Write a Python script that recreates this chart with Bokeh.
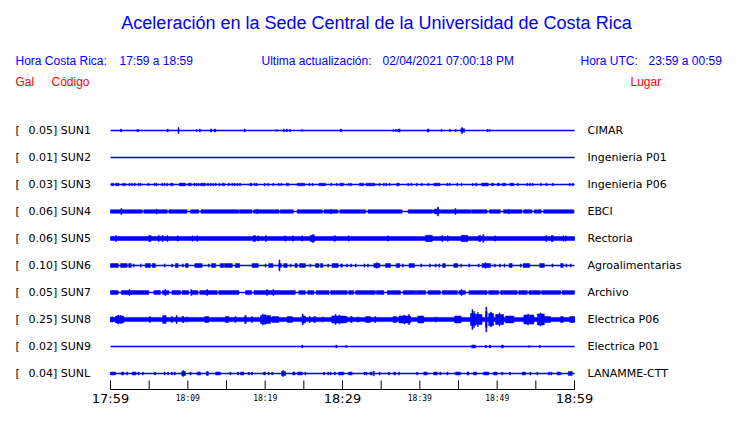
from bokeh.plotting import figure
from bokeh.models import Range1d, ColumnDataSource
from bokeh.core.properties import value
from bokeh.embed import file_html
from bokeh.resources import INLINE

# ---------------- data ----------------
codes = ["SUN1", "SUN2", "SUN3", "SUN4", "SUN5", "SUN6", "SUN7", "SUN8", "SUN9", "SUNL"]
gal_scale = ["0.05", "0.01", "0.03", "0.06", "0.06", "0.10", "0.05", "0.25", "0.02", "0.04"]
places = ["CIMAR", "Ingenieria P01", "Ingenieria P06", "EBCI", "Rectoria",
          "Agroalimentarias", "Archivo", "Electrica P06", "Electrica P01", "LANAMME-CTT"]

# continuous background envelope (half amplitude, trace units; 27 units = trace spacing)
base_amp = [0.5, 0.5, 0.5, 0.5, 2.0, 0.5, 0.5, 2.1, 0.5, 0.5]

# bursts: (start minute, end minute, half amplitude) ; minutes after 17:59
sun1 = [(1.35, 1.35, 1.5), (3.4, 3.65, 1.0), (7.4, 7.4, 1.5), (8.8, 8.8, 3.0), (11.15, 11.15, 1.0),
        (11.55, 11.55, 1.5), (12.9, 13.1, 1.5), (13.4, 13.6, 1.5), (17.35, 17.35, 1.5), (21.5, 21.5, 0.8),
        (22.4, 22.4, 1.5), (22.8, 22.8, 1.5), (23.2, 23.2, 1.0), (24.8, 24.8, 0.8), (29.8, 29.8, 1.5),
        (36.6, 36.6, 1.0), (36.9, 36.9, 1.0), (37.15, 37.45, 1.5), (40.95, 41.2, 1.5), (42.8, 42.8, 1.0),
        (43.9, 43.9, 1.0), (44.65, 44.65, 1.0), (45.3, 45.8, 1.8), (45.45, 45.45, 3.0), (48.75, 48.75, 1.0),
        (49.0, 49.0, 1.0)]
sun2 = []
sun3 = [(0.1, 0.4, 1.3), (0.65, 1.1, 1.3), (1.6, 1.6, 1.3), (1.85, 1.85, 1.3), (2.45, 2.45, 1.3),
        (2.8, 2.8, 1.3), (3.15, 3.15, 1.3), (3.65, 3.65, 1.3), (3.9, 3.9, 1.3), (4.9, 4.9, 1.3),
        (5.7, 5.7, 1.3), (5.95, 5.95, 1.3), (6.7, 6.7, 1.3), (7.0, 7.0, 1.3), (7.35, 7.35, 1.3),
        (7.75, 8.1, 1.3), (8.9, 9.7, 1.4), (10.05, 10.45, 1.3), (10.85, 10.85, 1.3), (11.1, 11.1, 1.3),
        (11.4, 11.4, 1.3), (11.65, 12.3, 1.3), (12.6, 12.6, 1.3), (12.95, 12.95, 1.3), (13.25, 13.25, 1.3),
        (13.6, 13.6, 1.3), (14.1, 14.1, 1.3), (14.45, 14.75, 1.3), (15.3, 15.3, 1.3), (15.75, 15.75, 1.3),
        (16.05, 16.05, 1.3), (16.4, 16.4, 1.3), (16.75, 16.75, 1.3), (18.0, 18.3, 1.3), (18.65, 18.65, 1.3),
        (18.9, 18.9, 1.3), (19.95, 19.95, 1.3), (20.4, 20.4, 1.3), (21.05, 21.05, 1.3), (21.75, 21.75, 1.3),
        (22.1, 22.1, 1.3), (22.75, 23.05, 1.3), (24.15, 25.1, 1.3), (25.75, 25.75, 1.3), (26.15, 26.15, 1.3),
        (26.95, 27.8, 1.3), (28.55, 28.55, 1.3), (29.25, 29.25, 1.3), (29.65, 30.15, 1.3), (30.8, 30.8, 1.3),
        (31.1, 31.1, 1.3), (32.2, 32.7, 1.3), (33.05, 34.2, 1.3), (34.8, 34.8, 1.3), (35.35, 35.35, 1.3),
        (35.65, 35.65, 1.3), (36.1, 36.1, 1.3), (37.0, 37.35, 1.3), (38.5, 38.5, 1.3), (38.9, 38.9, 1.3),
        (39.6, 39.6, 1.3), (40.25, 40.25, 1.3), (41.1, 41.1, 1.3), (41.8, 42.6, 1.3), (43.55, 43.55, 1.3),
        (43.85, 43.85, 1.3), (44.85, 44.85, 1.3), (45.4, 45.4, 1.3), (46.85, 46.85, 1.3), (47.2, 47.4, 1.3),
        (48.0, 48.85, 1.4), (49.25, 49.55, 1.3), (50.0, 50.3, 1.3), (50.65, 51.1, 1.3), (51.65, 52.15, 1.3),
        (52.7, 52.7, 1.3), (53.9, 53.9, 1.3), (54.25, 54.25, 1.3), (54.6, 54.6, 1.3), (55.65, 55.65, 1.3),
        (56.4, 56.4, 1.3), (57.2, 57.2, 1.3), (59.4, 59.4, 1.3), (59.8, 59.8, 1.3)]
sun4 = [(0.0, 4.1, 1.8), (4.3, 7.35, 1.8), (7.55, 9.9, 1.8), (10.35, 11.4, 1.8), (11.7, 16.6, 1.8),
        (16.7, 18.3, 1.8), (18.5, 21.8, 1.8), (21.95, 23.65, 1.8), (24.15, 27.4, 1.8), (27.6, 29.4, 1.8),
        (29.65, 33.0, 1.8), (33.3, 37.7, 1.8), (38.5, 41.6, 1.8), (41.6, 42.7, 1.4), (42.7, 44.6, 1.8),
        (44.7, 46.6, 1.8), (46.7, 48.7, 1.8), (49.0, 50.4, 1.8), (50.8, 53.2, 1.8), (53.4, 54.5, 1.8),
        (54.8, 55.7, 1.8), (56.0, 59.9, 1.8), (1.4, 1.4, 3.0), (5.95, 5.95, 2.5), (19.0, 19.0, 2.3),
        (28.5, 28.5, 2.3), (41.9, 42.5, 2.5), (42.35, 42.35, 4.5), (44.6, 44.6, 3.0), (51.5, 51.5, 2.3)]
sun5 = [(0.7, 0.7, 3.0), (4.95, 5.25, 3.0), (6.25, 6.25, 3.0), (6.75, 6.75, 3.0), (7.35, 7.35, 3.0),
        (8.7, 8.7, 2.7), (10.6, 10.6, 2.7), (11.2, 11.2, 2.7), (18.45, 18.75, 3.0), (19.1, 19.1, 2.7),
        (20.1, 20.1, 3.0), (22.6, 22.6, 2.7), (23.6, 23.6, 2.7), (24.8, 24.8, 2.7), (25.85, 26.4, 3.2),
        (26.2, 26.2, 4.0), (28.9, 29.1, 2.7), (30.8, 30.8, 2.7), (35.9, 35.9, 2.7), (40.75, 41.6, 3.2),
        (42.9, 42.9, 3.0), (43.6, 43.6, 2.7), (45.35, 46.2, 3.2), (47.6, 47.9, 3.0), (48.2, 48.2, 4.0),
        (49.7, 49.7, 2.7), (56.35, 56.35, 3.0), (57.05, 57.05, 3.0), (57.2, 57.2, 3.0), (58.55, 58.55, 2.7),
        (58.85, 58.85, 2.7)]
sun6 = [(0.0, 1.0, 2.0), (1.3, 2.15, 2.0), (2.35, 2.7, 2.0), (3.0, 3.0, 1.6), (3.9, 3.9, 1.6),
        (4.5, 5.15, 2.0), (5.4, 5.8, 2.0), (7.0, 7.0, 1.6), (7.95, 7.95, 1.6), (8.4, 8.75, 2.0),
        (9.35, 9.35, 1.6), (9.7, 10.05, 2.0), (10.9, 11.85, 2.0), (12.7, 12.7, 1.6), (13.05, 13.6, 2.0),
        (14.2, 14.65, 2.0), (14.75, 15.75, 2.0), (16.15, 16.7, 2.0), (18.3, 19.1, 2.0), (20.05, 20.05, 1.6),
        (20.45, 21.0, 2.0), (21.75, 22.1, 2.0), (21.85, 21.85, 5.5), (22.4, 22.85, 2.0), (23.3, 23.3, 1.6),
        (23.85, 24.15, 2.0), (24.45, 25.2, 2.0), (25.85, 25.85, 1.6), (26.5, 26.95, 2.0), (27.15, 27.45, 2.0),
        (28.15, 28.15, 1.6), (28.65, 29.45, 2.0), (29.75, 30.0, 1.6), (30.6, 30.6, 1.6), (31.1, 31.1, 1.6),
        (31.7, 31.7, 1.6), (32.85, 32.85, 1.6), (33.3, 33.3, 1.6), (34.05, 34.85, 2.0), (34.45, 34.45, 2.8),
        (35.55, 36.2, 2.0), (36.95, 37.4, 2.0), (37.8, 37.8, 1.6), (38.6, 39.3, 2.0), (40.2, 40.2, 1.6),
        (41.3, 41.3, 1.6), (42.05, 42.05, 1.6), (42.5, 42.5, 1.6), (42.95, 43.3, 2.0), (44.4, 44.9, 2.0),
        (45.35, 45.35, 1.6), (46.4, 46.4, 1.6), (47.6, 47.6, 1.6), (48.05, 49.15, 2.0), (48.5, 48.5, 2.8),
        (49.7, 49.7, 1.6), (50.35, 50.35, 1.6), (50.95, 50.95, 1.6), (51.55, 51.95, 2.0), (53.05, 53.05, 1.6),
        (53.35, 54.2, 2.0), (55.5, 56.1, 2.0), (57.15, 57.15, 1.6), (58.2, 58.55, 2.0), (58.95, 58.95, 1.6),
        (59.5, 59.5, 1.6)]
sun7 = [(0.0, 1.0, 1.9), (1.4, 4.95, 1.9), (2.45, 2.45, 3.0), (5.6, 6.45, 1.9), (6.7, 7.55, 1.9),
        (7.1, 7.1, 3.0), (7.95, 9.05, 1.9), (9.25, 10.1, 1.9), (10.4, 11.3, 1.9), (10.45, 10.45, 3.0),
        (11.55, 13.8, 1.9), (12.5, 12.5, 3.0), (14.0, 16.6, 1.9), (17.45, 18.25, 1.9), (18.55, 23.9, 1.9),
        (20.25, 20.25, 3.0), (21.05, 21.05, 3.0), (24.35, 25.2, 1.9), (25.5, 26.3, 1.9), (26.6, 28.25, 1.9),
        (28.45, 30.6, 1.9), (30.8, 31.45, 1.9), (31.7, 34.25, 1.9), (34.4, 35.35, 1.9), (35.8, 37.5, 1.9),
        (37.85, 39.45, 1.9), (39.55, 40.75, 1.9), (41.05, 42.65, 1.9), (42.9, 44.85, 1.9), (45.05, 45.9, 1.9),
        (45.4, 45.4, 3.0), (46.35, 48.7, 1.9), (48.9, 50.2, 1.9), (50.45, 52.6, 1.9), (52.8, 53.9, 1.9),
        (54.1, 55.6, 1.9), (55.75, 58.2, 1.9), (58.4, 60.0, 1.9)]
sun8 = [(0.0, 0.4, 2.5), (0.65, 1.7, 3.5), (1.0, 1.0, 4.5), (1.3, 1.3, 4.0), (5.1, 5.1, 3.0),
        (6.75, 7.2, 4.0), (7.95, 7.95, 3.0), (8.55, 8.55, 4.0), (9.25, 9.5, 3.0), (9.9, 9.9, 2.5),
        (12.2, 12.7, 3.0), (14.85, 15.3, 3.0), (16.15, 16.15, 3.0), (17.35, 17.55, 4.0), (18.3, 18.3, 3.0),
        (19.4, 20.7, 4.0), (19.7, 19.7, 5.5), (20.0, 20.0, 5.0), (20.9, 21.75, 3.0), (22.85, 23.5, 3.0),
        (24.8, 25.2, 3.5), (24.85, 24.85, 5.5), (25.75, 25.75, 3.0), (26.3, 26.5, 3.0), (27.45, 27.45, 2.5),
        (28.6, 30.4, 3.5), (29.1, 29.1, 5.0), (29.6, 29.6, 4.5), (30.4, 30.6, 3.0), (31.05, 31.25, 3.0),
        (31.9, 32.1, 2.5), (33.0, 33.6, 3.0), (34.25, 34.25, 3.0), (36.55, 37.0, 3.0), (37.3, 38.8, 3.5),
        (38.0, 38.0, 4.5), (38.6, 38.6, 5.0), (39.75, 40.5, 3.5), (42.05, 42.05, 2.5), (44.5, 45.35, 3.5),
        (46.55, 47.2, 6.0), (46.8, 46.8, 10.0), (47.0, 47.0, 8.0), (47.2, 48.05, 5.0), (47.5, 47.5, 7.0),
        (48.5, 48.7, 8.0), (48.6, 48.6, 12.5), (48.9, 49.55, 6.0), (49.2, 49.2, 7.5), (49.8, 50.85, 5.0),
        (50.3, 50.3, 6.5), (51.1, 52.15, 3.5), (53.45, 54.75, 4.5), (54.0, 54.0, 5.5), (55.2, 56.1, 5.5),
        (55.6, 55.6, 6.5), (56.1, 56.9, 3.0), (58.2, 58.55, 3.0), (59.4, 60.0, 3.0)]
sun9 = [(24.8, 24.8, 1.5), (29.2, 29.2, 1.5), (30.5, 30.5, 1.0), (46.7, 47.2, 1.5), (48.5, 48.6, 1.2),
        (49.0, 49.15, 1.5), (50.55, 50.8, 1.5), (54.1, 54.1, 0.8), (55.5, 55.5, 1.2)]
sunl = [(0.0, 0.65, 1.5), (1.4, 1.7, 1.5), (2.15, 2.15, 1.5), (2.8, 3.3, 1.5), (3.65, 3.65, 1.5),
        (4.2, 4.2, 1.5), (5.75, 5.75, 1.5), (7.0, 7.0, 1.5), (7.45, 7.45, 1.5), (7.95, 7.95, 1.5),
        (8.3, 8.3, 1.5), (9.2, 9.7, 2.0), (9.4, 9.4, 3.0), (10.35, 10.35, 1.5), (11.2, 11.65, 1.5),
        (12.4, 12.65, 2.0), (13.6, 14.2, 1.5), (15.5, 15.5, 1.5), (16.5, 16.5, 1.5), (16.8, 17.25, 1.5),
        (17.9, 17.9, 1.5), (18.3, 18.3, 1.5), (19.8, 20.05, 1.5), (20.45, 20.45, 1.5), (20.9, 20.9, 1.5),
        (22.1, 22.65, 2.0), (22.3, 22.3, 3.0), (23.55, 23.85, 1.5), (24.2, 24.8, 1.5), (25.2, 25.2, 1.5),
        (27.6, 27.6, 1.5), (28.15, 28.15, 1.5), (28.45, 28.45, 1.5), (29.0, 29.0, 1.5), (29.5, 30.15, 1.5),
        (30.8, 31.25, 1.5), (32.85, 32.85, 1.5), (33.1, 33.1, 1.5), (33.55, 33.85, 1.5), (34.05, 34.05, 2.5),
        (34.8, 34.8, 1.5), (36.0, 36.0, 1.5), (36.65, 36.85, 1.5), (37.3, 37.3, 1.5), (39.65, 39.65, 1.5),
        (40.5, 40.95, 1.5), (41.8, 42.25, 1.5), (42.65, 42.65, 1.5), (43.55, 43.55, 1.5), (44.6, 45.25, 1.5),
        (46.1, 46.35, 1.5), (46.95, 47.35, 1.5), (48.25, 48.9, 1.5), (49.55, 50.0, 1.5), (50.65, 50.65, 1.5),
        (51.65, 51.65, 1.5), (53.25, 53.65, 1.5), (54.3, 54.3, 1.5), (55.2, 55.2, 1.5), (56.7, 56.7, 1.5),
        (57.0, 57.0, 1.5), (57.75, 58.2, 1.5), (59.2, 59.7, 2.0)]
bursts = [sun1, sun2, sun3, sun4, sun5, sun6, sun7, sun8, sun9, sunl]

# time axis (minutes after 17:59)
tick_minutes = [0, 5, 10, 15, 20, 25, 30, 35, 40, 45, 50, 55, 60]
label_minutes = [0, 10, 20, 30, 40, 50, 60]
label_texts = ["17:59", "18:09", "18:19", "18:29", "18:39", "18:49", "18:59"]
label_big = [True, False, False, True, False, False, True]

# ---------------- layout helpers ----------------
W, H = 724, 407
PX_PER_MIN = 464 / 60.0      # 60 minutes span 464 px
X0_PX, ROW0_PX, ROW_GAP = 110, 130, 27
AMP_UNIT = 27.0              # trace units per trace spacing


def xm(px):   # canvas x -> data x
    return (px - X0_PX) / PX_PER_MIN


def yr(py):   # canvas y -> data y
    return -(py - ROW0_PX) / ROW_GAP


BLUE = "#0000ff"
RED = "#ff0000"

p = figure(width=W, height=H, output_backend="svg", toolbar_location=None,
           x_range=Range1d(xm(0), xm(W)), y_range=Range1d(yr(H), yr(0)),
           x_axis_location=None, y_axis_location=None, min_border=0,
           outline_line_color=None, background_fill_color="white")
p.grid.visible = False

# ---------------- traces ----------------
L, R, T, B = [], [], [], []
bx0, bx1, by = [], [], []
for i, evs in enumerate(bursts):
    yc = -i
    bx0.append(0)
    bx1.append(60)
    by.append(yc)
    if base_amp[i] > 1.0:
        h = base_amp[i] / AMP_UNIT
        L.append(0); R.append(60); T.append(yc + h); B.append(yc - h)
    for (t0, t1, a) in evs:
        if t1 - t0 < 0.13:
            c = (t0 + t1) / 2.0
            t0, t1 = c - 0.065, c + 0.065
        h = a / AMP_UNIT
        L.append(max(t0, 0)); R.append(min(t1, 60)); T.append(yc + h); B.append(yc - h)

p.segment(x0=bx0, y0=by, x1=bx1, y1=by, line_color=BLUE, line_width=1.3)
p.quad(source=ColumnDataSource(dict(left=L, right=R, top=T, bottom=B)),
       left="left", right="right", top="top", bottom="bottom",
       fill_color=BLUE, line_color=BLUE, line_width=0.5)

# ---------------- station labels ----------------
rows_y = [-i for i in range(len(codes))]
p.text(x=[xm(15)] * len(codes), y=rows_y, text=["["] * len(codes),
       text_font=value("DejaVu Sans"), text_font_size="11px", text_baseline="middle",
       text_color="black")
p.text(x=[xm(28)] * len(codes), y=rows_y, text=[f"{g}] {c}" for g, c in zip(gal_scale, codes)],
       text_font=value("DejaVu Sans"), text_font_size="11px", text_baseline="middle",
       text_color="black")
p.text(x=[xm(587)] * len(codes), y=rows_y, text=places,
       text_font=value("DejaVu Sans"), text_font_size="11px", text_baseline="middle",
       text_color="black")

# ---------------- header texts ----------------
p.text(x=[xm(376)], y=[yr(22)], text=["Aceleración en la Sede Central de la Universidad de Costa Rica"],
       text_font=value("Liberation Sans"), text_font_size="18px", text_baseline="middle",
       text_align="center", text_color=BLUE)
hx = [xm(15), xm(119), xm(261), xm(382), xm(580), xm(648)]
ht = ["Hora Costa Rica:", "17:59 a 18:59", "Ultima actualización:", "02/04/2021 07:00:18 PM",
      "Hora UTC:", "23:59 a 00:59"]
p.text(x=hx, y=[yr(60)] * len(hx), text=ht, text_font=value("Liberation Sans"),
       text_font_size="12px", text_baseline="middle", text_color=BLUE)
p.text(x=[xm(15), xm(51), xm(630)], y=[yr(81)] * 3, text=["Gal", "Código", "Lugar"],
       text_font=value("Liberation Sans"), text_font_size="12px", text_baseline="middle",
       text_color=RED)

# ---------------- time axis (raised to fit the 407 px canvas) ----------------
AX_Y = 389
p.segment(x0=[0], y0=[yr(AX_Y)], x1=[60], y1=[yr(AX_Y)], line_color="black", line_width=1)
p.segment(x0=tick_minutes, y0=[yr(AX_Y)] * len(tick_minutes), x1=tick_minutes,
          y1=[yr(AX_Y - 9)] * len(tick_minutes), line_color="black", line_width=1)
bx = [m for m, b in zip(label_minutes, label_big) if b]
bt = [t for t, b in zip(label_texts, label_big) if b]
sx = [m for m, b in zip(label_minutes, label_big) if not b]
st = [t for t, b in zip(label_texts, label_big) if not b]
p.text(x=bx, y=[yr(405.5)] * len(bx), text=bt, text_font=value("DejaVu Sans"),
       text_font_size="13px", text_baseline="bottom", text_align="center", text_color="black")
p.text(x=sx, y=[yr(398)] * len(sx), text=st, text_font=value("DejaVu Sans Mono"),
       text_font_size="8px", text_baseline="middle", text_align="center", text_color="black")

open("out.html", "w").write(file_html(p, INLINE))
